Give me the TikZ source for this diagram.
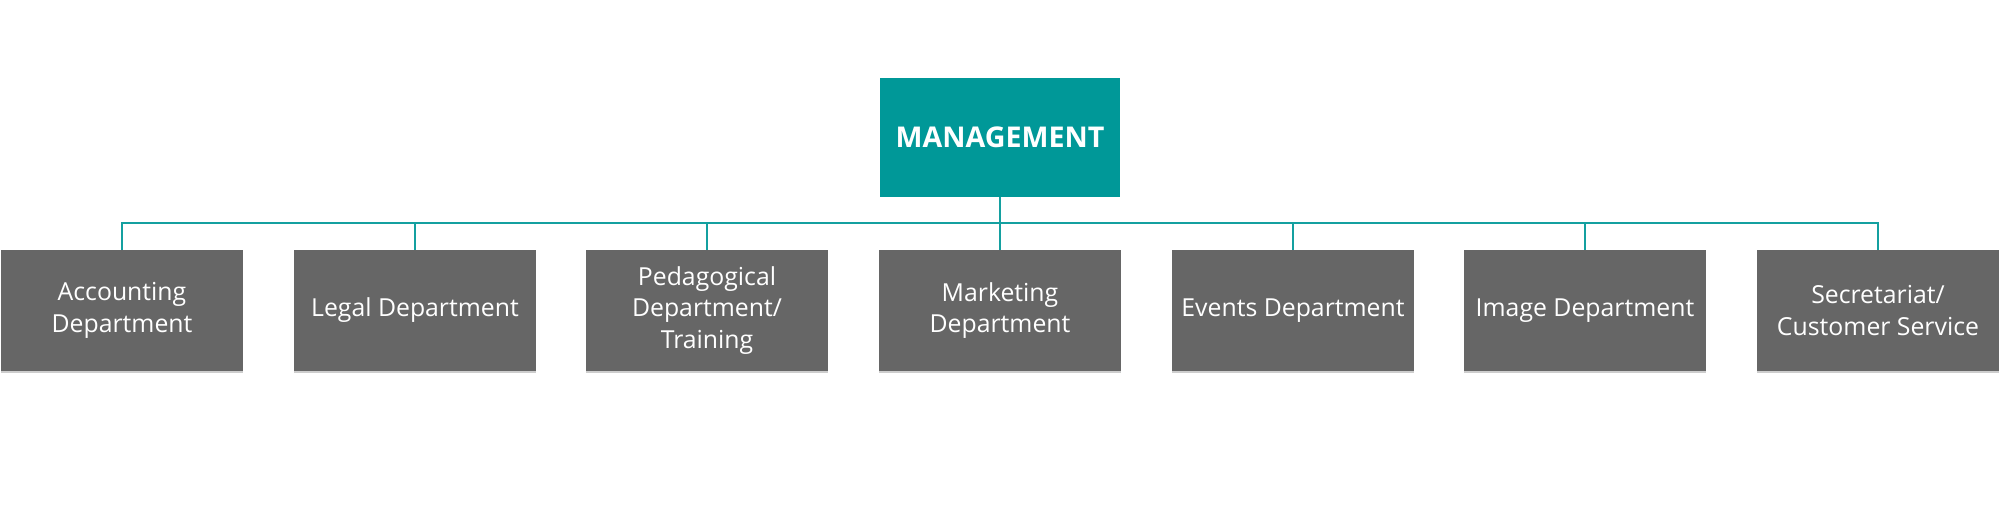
\documentclass[tikz,border=0pt]{standalone}
\usepackage{fontspec}
\setmainfont{Open Sans}
\definecolor{teal1}{RGB}{0,152,152}
\definecolor{line1}{RGB}{20,160,160}
\definecolor{dept}{RGB}{102,102,102}
\definecolor{shade}{RGB}{205,205,205}
\begin{document}
\begin{tikzpicture}[x=1pt,y=-1pt,
  deptbox/.style={fill=dept,minimum width=242pt,minimum height=121pt,inner sep=0pt,
    text=white,align=center,font=\fontsize{24.8}{31.5}\selectfont},
  mgmt/.style={fill=teal1,minimum width=240pt,minimum height=119pt,inner sep=0pt,
    text=white,font=\fontsize{28.6}{34}\selectfont\bfseries},
  conn/.style={draw=line1,line width=2pt},
  shadow/.style={draw=shade,line width=1.5pt}]
\useasboundingbox (0,0) rectangle (2000,529);
\node[mgmt] (m) at (1000,137.5) {MANAGEMENT};
\node[deptbox] (d1) at (122,310.5) {Accounting\\Department};
\node[deptbox] (d2) at (415,310.5) {Legal Department};
\node[deptbox] (d3) at (707,310.5) {Pedagogical\\Department/\\Training};
\node[deptbox] (d4) at (1000,310.5) {Marketing\\Department};
\node[deptbox] (d5) at (1293,310.5) {Events Department};
\node[deptbox] (d6) at (1585,310.5) {Image Department};
\node[deptbox] (d7) at (1878,310.5) {Secretariat/\\Customer Service};
\foreach \i in {1,...,7} \draw[shadow] ([yshift=-0.75pt]d\i.south west) -- ([yshift=-0.75pt]d\i.south east);
\coordinate (bus) at (0,223);
\draw[conn] (m.south) -- (d4.north);
\draw[conn] (d1.north) |- (bus -| d7.north) -- (d7.north);
\foreach \i in {2,3,5,6} \draw[conn] (d\i.north) -- (bus -| d\i.north);
\end{tikzpicture}
\end{document}
